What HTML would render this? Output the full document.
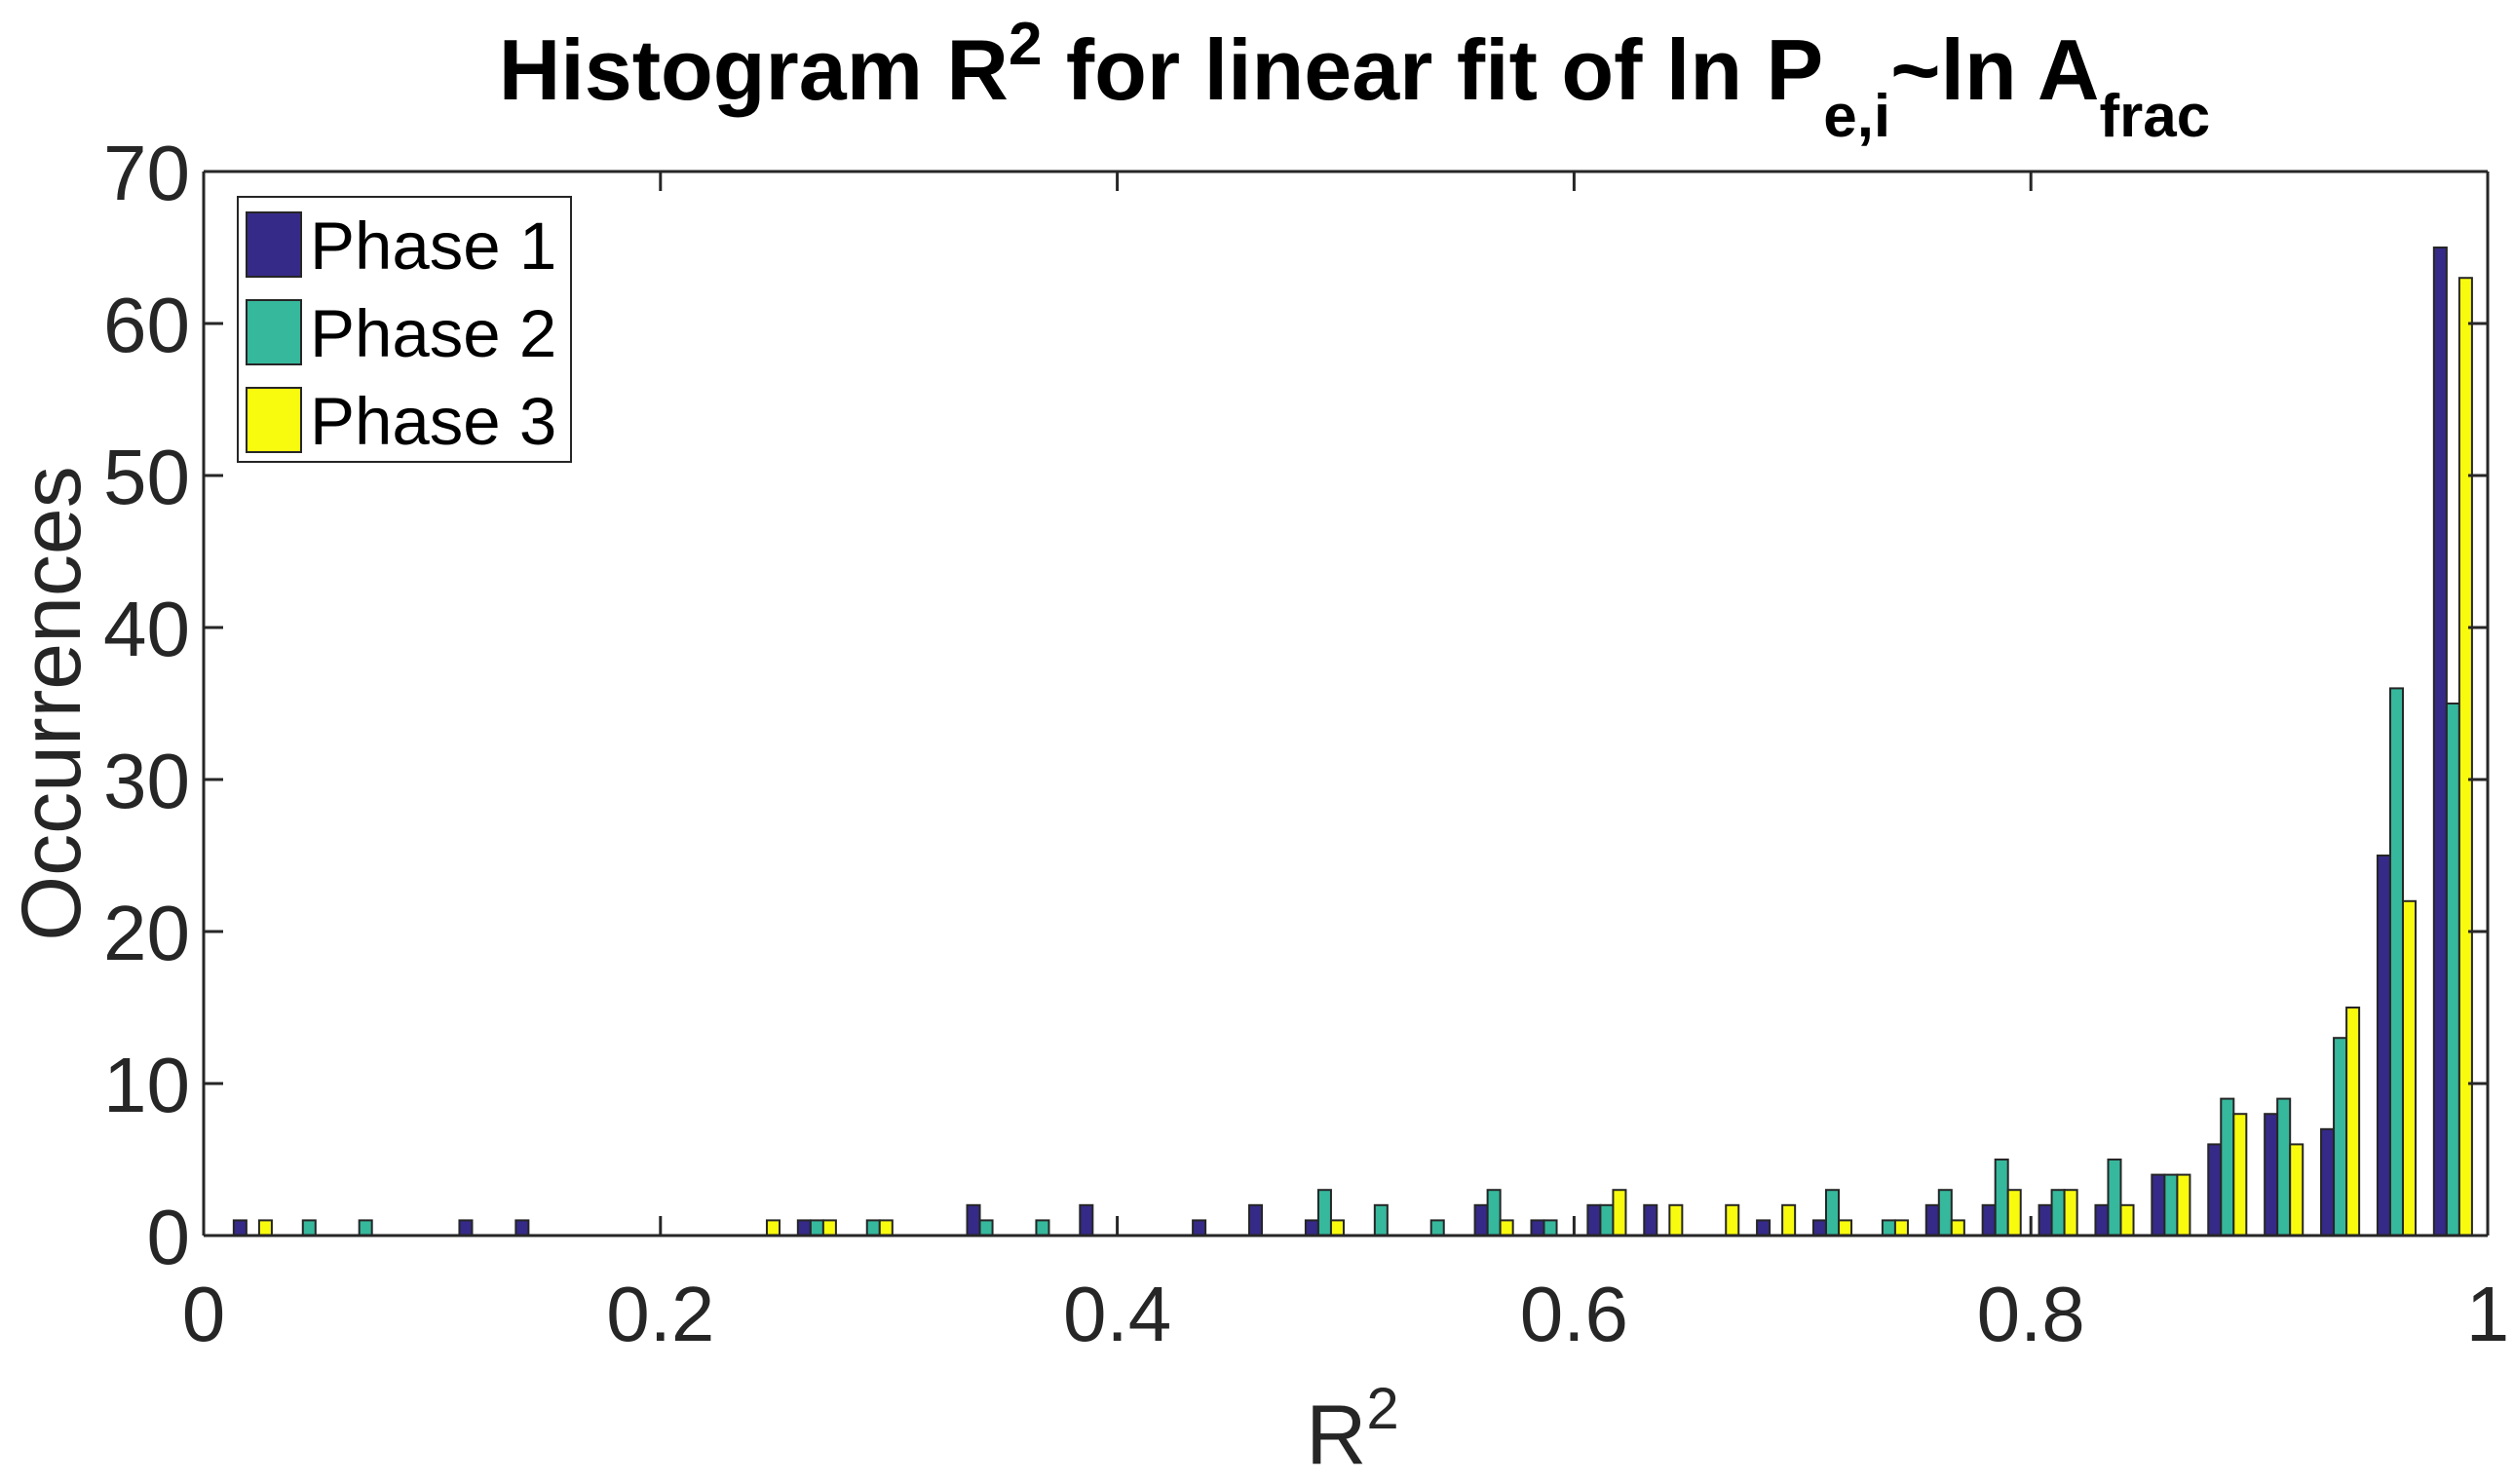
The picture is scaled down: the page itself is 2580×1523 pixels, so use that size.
<!DOCTYPE html>
<html><head><meta charset="utf-8"><style>
html,body{margin:0;padding:0;background:#fff;}
svg{display:block;font-family:"Liberation Sans",Arial,sans-serif;}
</style></head><body>
<svg id="chart" width="2580" height="1523" viewBox="0 0 2580 1523" xmlns="http://www.w3.org/2000/svg">
<rect x="0" y="0" width="2580" height="1523" fill="#fff"/>
<text x="1390" y="102" text-anchor="middle" font-size="88" font-weight="bold" fill="#000">Histogram R<tspan dy="-36" font-size="62">2</tspan><tspan dy="36"> for linear fit of ln P</tspan><tspan dy="38" font-size="62">e,i</tspan><tspan dy="-38">~ln A</tspan><tspan dy="38" font-size="62">frac</tspan></text>
<g id="bars"></g>
<g id="axes"></g>
<text x="1388" y="1502" text-anchor="middle" font-size="86" fill="#262626">R<tspan dy="-36" font-size="60">2</tspan></text>
<text transform="translate(82,722) rotate(-90)" text-anchor="middle" font-size="86" fill="#262626">Occurrences</text>
<g>
<rect x="244" y="202" width="342" height="272" fill="#fff" stroke="#262626" stroke-width="2"/>
<rect x="253" y="218" width="56" height="66" fill="#352a87" stroke="#262626" stroke-width="2"/>
<text x="318" y="276" font-size="69" fill="#000">Phase 1</text>
<rect x="253" y="308" width="56" height="66" fill="#36b89d" stroke="#262626" stroke-width="2"/>
<text x="318" y="366" font-size="69" fill="#000">Phase 2</text>
<rect x="253" y="398" width="56" height="66" fill="#f9fb0e" stroke="#262626" stroke-width="2"/>
<text x="318" y="456" font-size="69" fill="#000">Phase 3</text>
</g>
</svg>
<script>
const binCenters0 = 0.0215, binWidth = 0.0247;
const phase1 = [1,0,0,0,1,1,0,0,0,0,1,0,0,2,0,2,0,1,2,1,0,0,2,1,2,2,0,1,1,0,2,2,2,2,4,6,8,7,25,65];
const phase2 = [0,1,1,0,0,0,0,0,0,0,1,1,0,1,1,0,0,0,0,3,2,1,3,1,2,0,0,0,3,1,3,5,3,5,4,9,9,13,36,35];
const phase3 = [1,0,0,0,0,0,0,0,0,1,1,1,0,0,0,0,0,0,0,1,0,0,1,0,3,2,2,2,1,1,1,3,3,2,4,8,6,15,22,63];
const xTicks = [0,0.2,0.4,0.6,0.8,1];
const xTickLabels = ["0","0.2","0.4","0.6","0.8","1"];
const yTicks = [0,10,20,30,40,50,60,70];
const X0=209, X1=2553, Y0=1268, Y1=176;
const xs = v => X0 + (X1-X0)*v;
const ys = v => Y0 - (Y0-Y1)*v/70;
const NS="http://www.w3.org/2000/svg";
const barsG=document.getElementById('bars'), axG=document.getElementById('axes');
const series=[[phase1,'#352a87','phase-1'],[phase2,'#36b89d','phase-2'],[phase3,'#f9fb0e','phase-3']];
const bw=binWidth*0.225*(X1-X0);
series.forEach((s,si)=>{
  s[0].forEach((v,k)=>{
    if(!v) return;
    const c=xs(binCenters0+binWidth*k);
    const r=document.createElementNS(NS,'rect');
    r.setAttribute('x',c+(si-1.5)*bw); r.setAttribute('width',bw);
    r.setAttribute('y',ys(v)); r.setAttribute('height',Y0-ys(v));
    r.setAttribute('fill',s[1]); r.setAttribute('stroke','#262626'); r.setAttribute('stroke-width','2');
    
    
    barsG.appendChild(r);
  });
});
function ln(x1,y1,x2,y2,name){const l=document.createElementNS(NS,'line');l.setAttribute('x1',x1);l.setAttribute('y1',y1);l.setAttribute('x2',x2);l.setAttribute('y2',y2);l.setAttribute('stroke','#262626');l.setAttribute('stroke-width','3');


axG.appendChild(l);}
function tx(x,y,s,anchor,name){const t=document.createElementNS(NS,'text');t.setAttribute('x',x);t.setAttribute('y',y);t.setAttribute('text-anchor',anchor);t.setAttribute('font-size','80');t.setAttribute('fill','#262626');t.textContent=s;


axG.appendChild(t);}
ln(X0,Y0,X1,Y0,'x-axis');ln(X0,Y1,X1,Y1,'top-axis');ln(X0,Y0,X0,Y1,'y-axis');ln(X1,Y0,X1,Y1,'right-axis');
xTicks.forEach((v,i)=>{ln(xs(v),Y0,xs(v),Y0-20,'x-tick');ln(xs(v),Y1,xs(v),Y1+20,'x-tick-top');tx(xs(v),Y0+108,xTickLabels[i],'middle','x-tick-label');});
yTicks.forEach(v=>{ln(X0,ys(v),X0+20,ys(v),'y-tick');ln(X1,ys(v),X1-20,ys(v),'y-tick-right');tx(X0-14,ys(v)+29,String(v),'end','y-tick-label');});
</script>
</body></html>
